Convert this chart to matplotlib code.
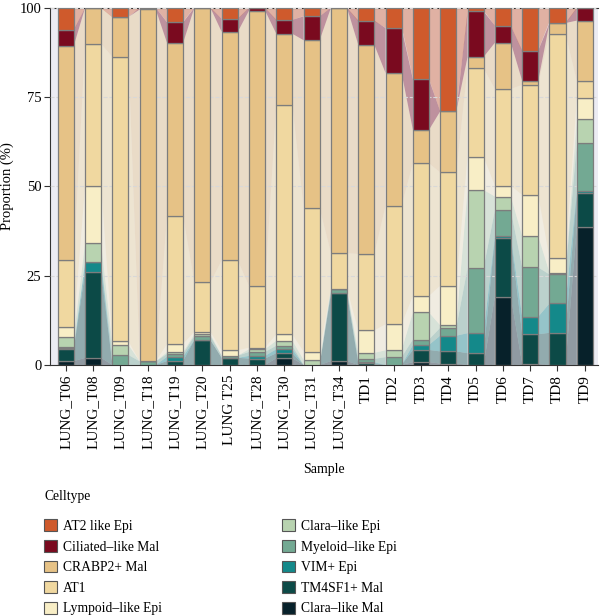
import numpy as np
import matplotlib
matplotlib.use("Agg")
import matplotlib.pyplot as plt
from matplotlib.patches import Patch

plt.rcParams['font.family'] = ['Liberation Serif', 'DejaVu Serif']

# samples (x axis)
samples = ["LUNG_T06", "LUNG_T08", "LUNG_T09", "LUNG_T18", "LUNG_T19", "LUNG_T20",
           "LUNG T25", "LUNG_T28", "LUNG_T30", "LUNG_T31", "LUNG_T34",
           "TD1", "TD2", "TD3", "TD4", "TD5", "TD6", "TD7", "TD8", "TD9"]

# proportions (%) per cell type
at2_epi      = [6.2, 0, 2.6, 0, 4.1, 0, 3.1, 0, 3.4, 2.4, 0, 3.6, 5.7, 20.0, 29.0, 1.0, 5.0, 12.0, 4.3, 0]
ciliated_mal = [4.5, 0, 0, 0.5, 5.8, 0, 3.7, 0.8, 3.9, 6.7, 0, 6.8, 12.6, 14.2, 0, 12.8, 4.8, 8.5, 0, 3.6]
crabp2_mal   = [60.2, 10.1, 11.2, 98.5, 48.4, 76.8, 63.9, 77.0, 19.9, 46.9, 68.7, 58.6, 37.1, 9.3, 17.1, 3.1, 12.9, 1.1, 3.0, 16.9]
at1          = [18.8, 39.8, 79.7, 0, 35.9, 13.8, 25.2, 17.3, 64.2, 40.2, 10.0, 21.4, 33.2, 37.1, 31.7, 24.8, 27.1, 30.8, 62.8, 4.8]
lympoid_epi  = [2.8, 16.0, 1.0, 0, 2.3, 0.7, 1.5, 0.45, 1.8, 2.3, 0, 6.3, 7.3, 4.6, 11.1, 9.3, 3.0, 11.5, 4.0, 5.8]
clara_epi    = [2.9, 5.3, 2.8, 0, 0.5, 0.5, 0, 0.75, 1.4, 1.4, 0, 1.7, 1.9, 7.6, 0.7, 21.9, 3.9, 8.8, 0.5, 6.8]
myeloid_epi  = [0.3, 0, 2.8, 1.0, 0.8, 1.1, 0.6, 1.1, 1.0, 0, 1.2, 0.9, 2.2, 1.5, 2.2, 18.2, 7.0, 13.8, 8.1, 13.3]
vim_epi      = [0.3, 2.8, 0, 0, 1.2, 0, 0, 0.75, 1.1, 0, 0, 0.3, 0, 1.4, 4.4, 5.6, 0.7, 4.9, 8.2, 0.6]
tm4sf1_mal   = [3.4, 24.1, 0, 0, 1.1, 7.0, 2.0, 1.8, 1.4, 0, 19.0, 0.5, 0, 3.4, 3.4, 3.3, 16.4, 8.3, 9.0, 9.5]
clara_mal    = [1.1, 2.0, 0, 0, 0, 0, 0, 0, 1.9, 0, 1.1, 0, 0, 0.8, 0.4, 0, 19.1, 0.3, 0, 38.5]

celltypes = ["AT2 like Epi", "Ciliated\u2013like Mal", "CRABP2+ Mal", "AT1", "Lympoid\u2013like Epi",
             "Clara\u2013like Epi", "Myeloid\u2013like Epi", "VIM+ Epi", "TM4SF1+ Mal", "Clara\u2013like Mal"]
colors = ["#cf5a2c", "#7a0a1f", "#e6c286", "#f0d8a0", "#f8eec6",
          "#b8d3b0", "#73a993", "#14898a", "#0c4a47", "#07212a"]

data = np.array([at2_epi, ciliated_mal, crabp2_mal, at1, lympoid_epi,
                 clara_epi, myeloid_epi, vim_epi, tm4sf1_mal, clara_mal], dtype=float)
data = data / data.sum(axis=0) * 100

# stack from the bottom: last cell type at the bottom
order = list(range(len(celltypes)))[::-1]
x = np.arange(len(samples))
w = 0.586

fig = plt.figure(figsize=(6.0, 6.16), dpi=100)
ax = fig.add_axes([0.083, 0.4075, 0.914, 0.58])
ax.set_facecolor("#ececf3")

bottom = np.zeros(len(samples))
for k in order:
    top = bottom + data[k]
    # flows between neighbouring bars
    for i in range(len(samples) - 1):
        xs = [x[i] + w / 2, x[i] + w / 2, x[i + 1] - w / 2, x[i + 1] - w / 2]
        ys = [bottom[i], top[i], top[i + 1], bottom[i + 1]]
        ax.fill(xs, ys, color=colors[k], alpha=0.4, lw=0, zorder=1)
    ax.bar(x, data[k], w, bottom=bottom, color=colors[k], edgecolor="#7d7d7d",
           linewidth=0.9, zorder=3)
    bottom = top

ax.set_xlim(-0.586, 19.49)
ax.set_ylim(0, 100)
ax.set_yticks([0, 25, 50, 75, 100])
ax.set_xticks(x)
ax.set_xticklabels(samples, rotation=90, fontsize=11)
ax.tick_params(axis="y", labelsize=10.5, length=4, pad=2, colors="#333333", labelcolor="black")
ax.tick_params(axis="x", length=4, pad=3, colors="#333333", labelcolor="black")
ax.yaxis.grid(True, color="#d8d8d8", linestyle="--", linewidth=0.8, zorder=2)
ax.set_axisbelow(False)
ax.spines["right"].set_visible(False)
ax.spines["top"].set_color("#333333")
ax.spines["left"].set_color("#333333")
ax.spines["bottom"].set_color("#333333")
ax.set_ylabel("Proportion (%)", fontsize=10.5, labelpad=4)
ax.set_xlabel("Sample", fontsize=10, labelpad=10)

handles = [Patch(facecolor=colors[k], edgecolor="#555555", linewidth=0.8) for k in range(len(celltypes))]
leg = fig.legend(handles, celltypes, ncol=2, loc="upper left",
                 bbox_to_anchor=(0.062, 0.216), bbox_transform=fig.transFigure,
                 frameon=False, fontsize=9.8, borderpad=0,
                 title="Celltype", title_fontsize=9.8, alignment="left",
                 handlelength=0.95, handleheight=0.95, handletextpad=0.45,
                 columnspacing=8.8, labelspacing=0.52)
leg._legend_box.sep = 12

fig.savefig("out.png", dpi=100)
